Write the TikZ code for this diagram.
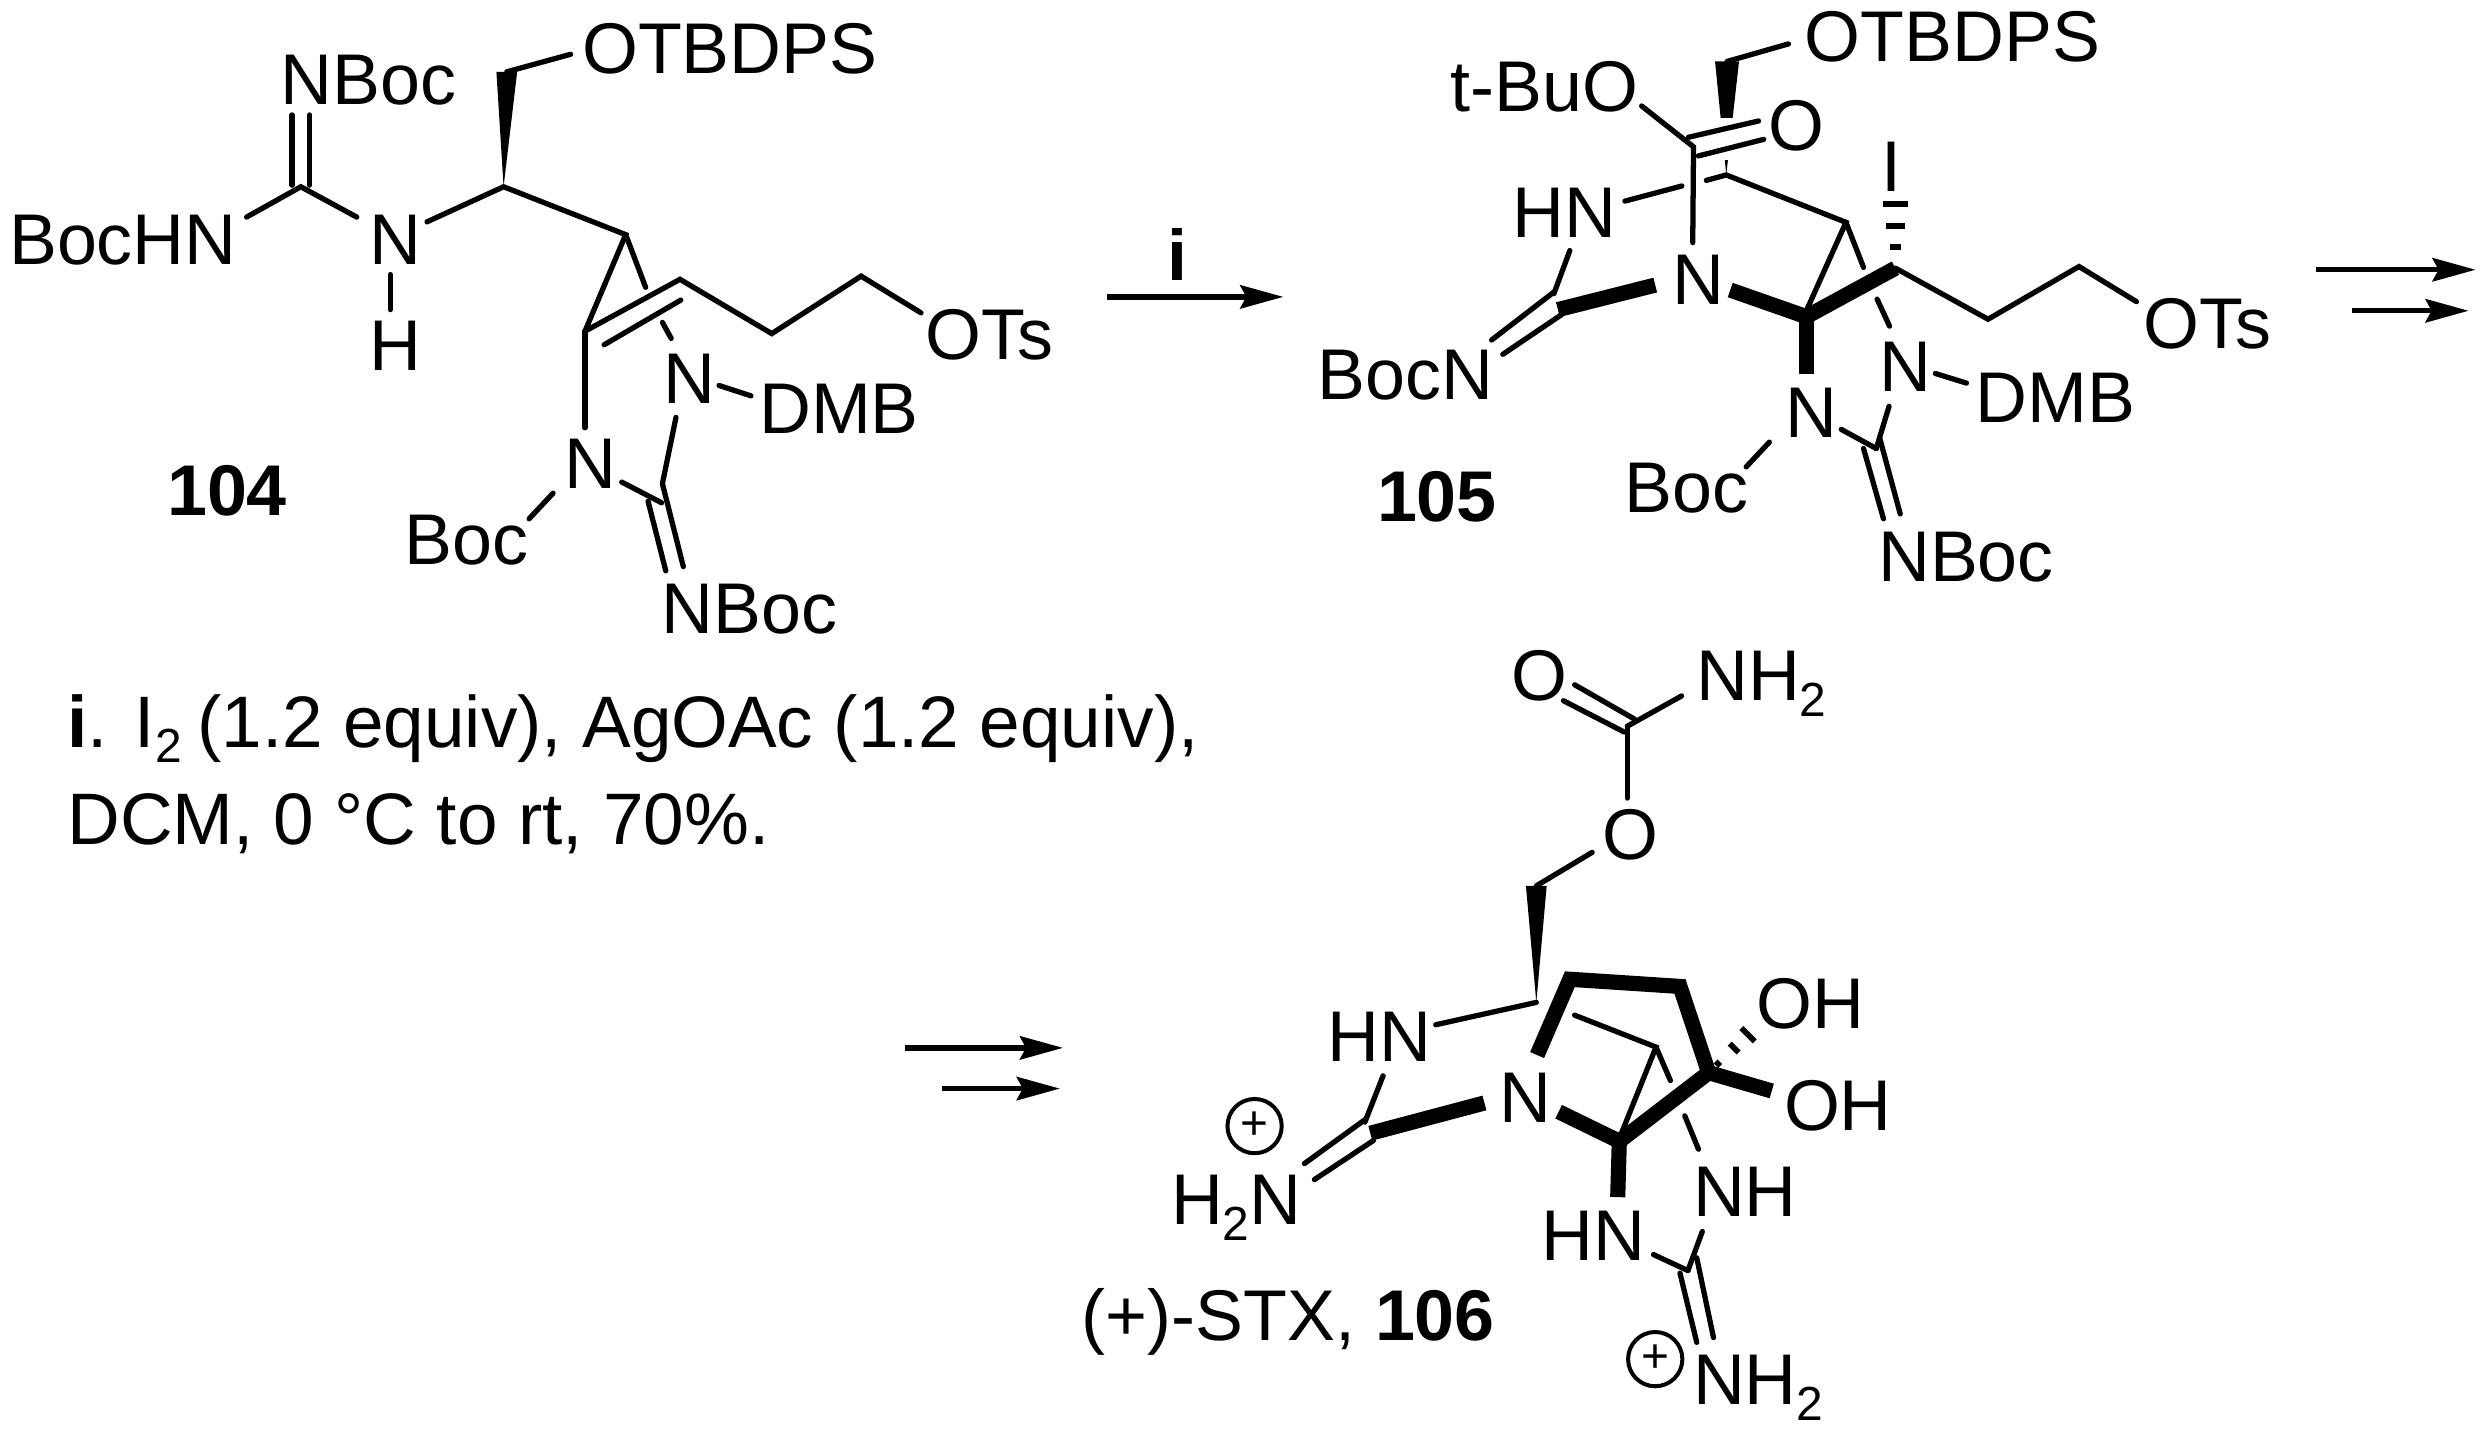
\documentclass[tikz,border=0pt]{standalone}
\usepackage{fontspec}
\setmainfont{Liberation Sans}
\usetikzlibrary{arrows.meta,calc}
\newcommand{\chemsub}[1]{\raisebox{-10pt}{\fontsize{30}{30}\selectfont #1}}
\tikzset{
    atom/.style={anchor=base west,inner sep=0pt,font=\fontsize{45}{50}\selectfont},
    capt/.style={anchor=base west,inner sep=0pt,font=\fontsize{45.7}{50}\selectfont},
    bond/.style={line width=3.3pt,line cap=round,line join=miter},
    boldbond/.style={line width=9.5pt,line join=miter},
    halo/.style={white,line width=26pt},
    rxn/.style={line width=3.3pt,-{Stealth[length=27pt,width=14.6pt,inset=3.8pt]}},
    charge/.style={draw,circle,line width=2.5pt,minimum size=34pt,inner sep=0pt,font=\fontsize{30}{30}\selectfont}
}
\begin{document}
\begin{tikzpicture}[x=1pt,y=-1pt]
    \useasboundingbox (0,0) rectangle (1560,897);
    \begin{scope}[xshift=-2.5pt]
    %104 labels
    \node[atom] (aOtbdps) at (367,46) {OTBDPS};
    \node[atom] (aNbocT) at (178,65.5) {NBoc};
    \node[atom] (aBochn) at (8,166) {BocHN};
    \node[atom] (aN) at (234,166) {N};
    \node[atom] (aH) at (234,232) {H};
    \node[atom] (aOts) at (582,225) {OTs};
    \node[atom] (aNd) at (418,252.5) {N};
    \node[atom] (aDmb) at (478,271.5) {DMB};
    \node[atom] (aNb) at (356,306) {N};
    \node[atom] (aBoc) at (256,353.5) {Boc};
    \node[atom] (aNbocB) at (417,397) {NBoc};
    \node[atom,font=\fontsize{45}{50}\selectfont\bfseries] (aNum) at (107,323) {104};
    %104 atoms and bond ends
    \foreach \n/\x/\y in {aCa/320/45,aCb/318/117,aEo/360/34,aCg/191/117,aD1/185.5/116,aD2/185.5/72,aD3/196.5/116,aD4/196.5/72,
        aEb/157/136,aEn/226/136,aEm/270/139,aEh1/247/172,aEh2/247/194,aCc/394.5/147,aCd/369/207.5,aEr/407/180,aCe/428.5/175,
        aCf/429/188,aCf2/381/216,aCh/486/209,aCi/542/173,aEt/579.5/196,aEs1/417.5/202,aEs2/423/212,aEv/369/268,aEd1/453/241.5,aEd2/473/248,
        aEu/426/261.5,aCj/417.5/303,aEw/392/302,aCk/417/315,aD5/408.5/314,aD6/419.6/357.6,aD7/430.6/355,aEx/349/309,aEy/334/325} 
        \coordinate (\n) at (\x,\y);
    \fill ($(aCa)+(-6.5,0)$) -- (aCb) -- ($(aCa)+(6.5,0)$) -- cycle;
    \draw[bond] (aCa) -- (aEo);
    \draw[bond] (aEm) -- (aCb) -- (aCc) -- (aCd);
    \draw[bond] (aCc) -- (aEr);
    \draw[bond] (aEb) -- (aCg) -- (aEn);
    \draw[bond] (aD1) -- (aD2);
    \draw[bond] (aD3) -- (aD4);
    \draw[bond] (aEh1) -- (aEh2);
    \draw[bond] (aCd) -- (aCe) -- (aCh) -- (aCi) -- (aEt);
    \draw[bond] (aCf2) -- (aCf);
    \draw[bond] (aEs1) -- (aEs2);
    \draw[bond] (aCd) -- (aEv);
    \draw[bond] (aEd1) -- (aEd2);
    \draw[bond] (aEu) -- (aCj);
    \draw[bond] (aEw) -- (aCk);
    \draw[bond] (aD5) -- (aD6);
    \draw[bond] (aCj) -- (aD7);
    \draw[bond] (aEx) -- (aEy);
    \end{scope}
    %first step
    \coordinate (arrI1) at (693.5,186);
    \coordinate (arrI2) at (804,186);
    \draw[rxn] (arrI1) -- (arrI2);
    \node[capt,font=\fontsize{45}{50}\selectfont\bfseries] (stepI) at (731.5,176) {i};
    \node[capt] (condA) at (42,468) {{\bfseries i}. I\chemsub{2}\kern-3pt{} (1.2 equiv), AgOAc (1.2 equiv),};
    \node[capt] (condB) at (42,529) {DCM, 0 °C to rt, 70\%.};
    \begin{scope}[xshift=-3.5pt]
    %105 labels
    \node[atom] (bOtbdps) at (1134,38.5) {OTBDPS};
    \node[atom] (bTbu) at (912,70) {t-BuO};
    \node[atom] (bO) at (1111,94.5) {O};
    \node[atom] (bI) at (1182,120) {I};
    \node[atom] (bHn) at (951,149) {HN};
    \node[atom] (bN) at (1051,191) {N};
    \node[atom] (bBocn) at (829,250) {BocN};
    \node[atom] (bOts) at (1346,218.5) {OTs};
    \node[atom] (bNd) at (1181,245) {N};
    \node[atom] (bDmb) at (1241,264.5) {DMB};
    \node[atom] (bNb) at (1122,274) {N};
    \node[atom] (bBoc) at (1021,321) {Boc};
    \node[atom] (bNbocB) at (1180,364) {NBoc};
    \node[atom,font=\fontsize{45}{50}\selectfont\bfseries] (bNum) at (866,327) {105};
    %105 atoms and bond ends
    \foreach \n/\x/\y in {bCa/1085.5/38.5,bCb/1085/109.6,bEo/1124/27.5,bEt/1032/66.4,bCo/1064.5/92,bD1/1061.3/86,bD2/1105.2/75.8,bD3/1067.5/97.7,bD4/1108.5/87.3,
        bHa/1062/87,bHb/1107/87,bEn/1064/152,bEh1/1021.5/126,bEh2/1057.2/116.5,bEh3/1072.5/113,bCc/1160/139.3,bCd/1135.5/194,bEr/1171/167.5,
        bEs/1040.5/178.6,bCg/979.5/194,bEg/987/157,bEg2/977/184,bD5/977/183,bD6/938/213,bD7/982/197,bD8/945/222,
        bEm/1087.5/181.7,bCe/1135.2/198.4,bCf/1191/168,bEq/1135.2/234,bCh/1249/200,bCi/1306/167,bEp/1342/189,bHt/1191/168,bHe/1191/124,
        bEz1/1179.5/187.4,bEz2/1187.3/204.3,bEd1/1216/234,bEd2/1235.5/240,bEu/1187/254.5,bCj/1179/281,bEw/1157/269,bD9/1171/281,bD10/1183.5/325,bD11/1181/274,bD12/1194/322,
        bEx/1112/277,bEy/1097.5/292.5}
        \coordinate (\n) at (\x,\y);
    \fill ($(bCa)+(-7.5,0)$) -- (bCb) -- ($(bCa)+(7.5,0)$) -- cycle;
    \draw[halo] (bHa) -- (bHb);
    \draw[bond] (bCa) -- (bEo);
    \draw[bond] (bEt) -- (bCo) -- (bEn);
    \draw[bond] (bD1) -- (bD2);
    \draw[bond] (bD3) -- (bD4);
    \draw[bond] (bEh1) -- (bEh2);
    \draw[bond] (bEh3) -- (bCb) -- (bCc) -- (bCd);
    \draw[bond] (bCc) -- (bEr);
    \draw[boldbond] (bEs) -- (bCg);
    \draw[bond] (bEg) -- (bEg2);
    \draw[bond] (bD5) -- (bD6);
    \draw[bond] (bD7) -- (bD8);
    \draw[boldbond] (bEm) -- (bCe) -- (bCf);
    \draw[boldbond] (bCe) -- (bEq);
    \draw[bond] (bCf) -- (bCh) -- (bCi) -- (bEp);
    \foreach \t/\w in {0.3/3.3,0.6/5.8,0.91/8}
        \draw[line width=3.8pt] ($(bHt)!\t!(bHe)+(-\w,0)$) -- ($(bHt)!\t!(bHe)+(\w,0)$);
    \draw[bond] (bEz1) -- (bEz2);
    \draw[bond] (bEd1) -- (bEd2);
    \draw[bond] (bEu) -- (bCj);
    \draw[bond] (bEw) -- (bCj);
    \draw[bond] (bD9) -- (bD10);
    \draw[bond] (bD11) -- (bD12);
    \draw[bond] (bEx) -- (bEy);
    \end{scope}
    %double arrows
    \foreach \n/\x/\y in {arrR1/1451/169,arrR2/1551/169,arrR3/1473.6/194.7,arrR4/1546.6/194.7,arrL1/567/656.5,arrL2/666/656.5,arrL3/590/682,arrL4/664/682}
        \coordinate (\n) at (\x,\y);
    \draw[rxn] (arrR1) -- (arrR2);
    \draw[rxn] (arrR3) -- (arrR4);
    \draw[rxn] (arrL1) -- (arrL2);
    \draw[rxn] (arrL3) -- (arrL4);
    \begin{scope}[xshift=-3.5pt]
    %106 labels
    \node[atom] (cOt) at (950,439) {O};
    \node[atom] (cNh) at (1066,439) {NH\chemsub{2}};
    \node[atom] (cO) at (1007,538.5) {O};
    \node[atom] (cHn) at (835,665) {HN};
    \node[atom] (cN) at (943,703) {N};
    \node[atom] (cOha) at (1104,644.5) {OH};
    \node[atom] (cOhb) at (1121,708.5) {OH};
    \node[atom] (cH2n) at (737,767) {H\chemsub{2}N};
    \node[atom] (cNhb) at (1064,762) {NH};
    \node[atom] (cHnb) at (969,790) {HN};
    \node[atom] (cNhc) at (1064,880) {NH\chemsub{2}};
    \node[charge] (cPa) at (789.5,705.5) {+};
    \node[charge] (cPb) at (1040.5,851.5) {+};
    \node[atom] (cNum) at (681,840) {(+)-STX, {\bfseries 106}};
    %106 atoms and bond ends
    \foreach \n/\x/\y in {cD1/990/429,cD2/1027.5/450.5,cD3/983/439,cD4/1021/458.6,cCa/1023/455,cEa/1057/436,cEb/1023/500,cEc/1001/534,
        cCb/966/555,cCc/966/628,cEd/903/642,cEe/966.5/661,cCd/987/613.5,cCe/1056/618,cCf/1074/672,cEf/1113.5/683.5,cCg/1018/715,
        cEg/980/696.5,cEh/1017/750,cEi/933.5/691,cCh/862/710,cEj/870/674,cEk/858.6/703,cD5/858.6/701.5,cD6/820.7/729,cD7/864/714.5,cD8/827/739,
        cEl/990/636,cCi/1041/656,cEm/1019.5/709.6,cEn/1050/677,cEo/1059/699,cEp/1067.6/720,cHe/1103/644,
        cEq/1070/771.5,cCj/1061/796,cEr/1039.4/786,cD9/1056/797.6,cD10/1066.5/841,cD11/1066.5/788,cD12/1077/838}
        \coordinate (\n) at (\x,\y);
    \draw[bond] (cD1) -- (cD2);
    \draw[bond] (cD3) -- (cD4);
    \draw[bond] (cCa) -- (cEa);
    \draw[bond] (cCa) -- (cEb);
    \draw[bond] (cEc) -- (cCb);
    \fill ($(cCb)+(-6.5,0)$) -- (cCc) -- ($(cCb)+(6.5,0)$) -- cycle;
    \draw[bond] (cCc) -- (cEd);
    \draw[bond] (cEl) -- (cCi) -- (cEm);
    \draw[bond] (cCi) -- (cEn);
    \draw[boldbond] (cEe) -- (cCd) -- (cCe) -- (cCf) -- (cCg) -- (cEg);
    \draw[boldbond] (cCf) -- (cEf);
    \draw[boldbond] (cCg) -- (cEh);
    \draw[boldbond] (cEi) -- (cCh);
    \draw[bond] (cEj) -- (cEk);
    \draw[bond] (cD5) -- (cD6);
    \draw[bond] (cD7) -- (cD8);
    \foreach \t/\w in {0.2/2,0.55/4,0.85/6}
        \draw[line width=3.5pt] ($(cCf)!\t!(cHe)+(-.7*\w,-.7*\w)$) -- ($(cCf)!\t!(cHe)+(.7*\w,.7*\w)$);
    \draw[bond] (cEo) -- (cEp);
    \draw[bond] (cEq) -- (cCj);
    \draw[bond] (cEr) -- (cCj);
    \draw[bond] (cD9) -- (cD10);
    \draw[bond] (cD11) -- (cD12);
    \end{scope}
\end{tikzpicture}
\end{document}
